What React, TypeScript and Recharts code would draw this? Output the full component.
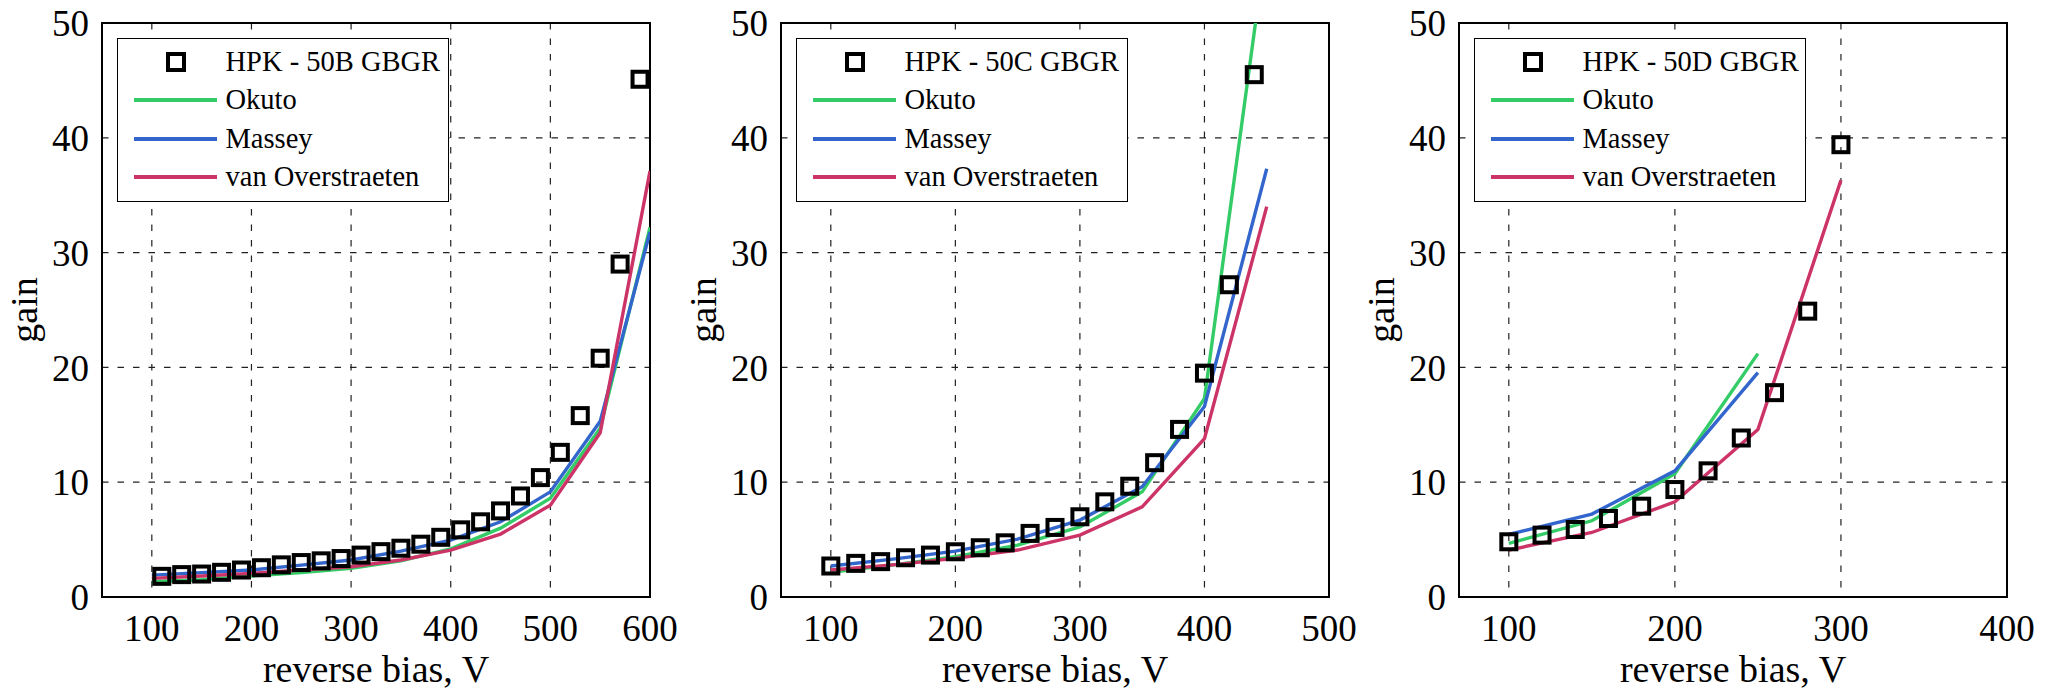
import { ComposedChart, XAxis, YAxis, CartesianGrid, Line, Scatter, Legend, ReferenceArea, Label } from 'recharts';

const serif = '"Liberation Serif", "Times New Roman", serif';
const okutoColor = '#33cc66';
const masseyColor = '#3366cc';
const vanOColor = '#cc3366';

const gainTicks = [0, 10, 20, 30, 40, 50];

// HPK - 50B GBGR
const biasB = [110, 130, 150, 170, 190, 210, 230, 250, 270, 290, 310, 330, 350, 370, 390, 410, 430, 450, 470, 490, 510, 530, 550, 570, 590];
const gainB = [1.8, 1.95, 2.0, 2.15, 2.35, 2.55, 2.8, 3.0, 3.15, 3.35, 3.65, 3.95, 4.25, 4.6, 5.2, 5.85, 6.55, 7.5, 8.8, 10.4, 12.6, 15.8, 20.8, 29.0, 45.1];
const modelBiasB = [100, 150, 200, 250, 300, 350, 400, 450, 500, 550, 600];
const okutoB = [1.33, 1.5, 1.83, 2.12, 2.5, 3.16, 4.2, 6.0, 8.6, 14.7, 32.2];
const masseyB = [1.91, 2.12, 2.35, 2.78, 3.22, 4.0, 4.96, 6.55, 9.16, 15.3, 31.8];
const vanOB = [1.62, 1.83, 2.06, 2.35, 2.64, 3.22, 4.09, 5.48, 8.0, 14.3, 37.1];
const ticksB = [100, 200, 300, 400, 500, 600];

// HPK - 50C GBGR
const biasC = [100, 120, 140, 160, 180, 200, 220, 240, 260, 280, 300, 320, 340, 360, 380, 400, 420, 440];
const gainC = [2.7, 2.93, 3.08, 3.42, 3.65, 3.94, 4.29, 4.72, 5.54, 6.06, 6.99, 8.29, 9.65, 11.7, 14.6, 19.5, 27.2, 45.5];
const modelBiasC = [100, 150, 200, 250, 300, 350, 400, 450];
const okutoC = [2.15, 2.8, 3.51, 4.52, 6.1, 9.16, 17.3, 57.2];
const masseyC = [2.7, 3.3, 4.0, 5.04, 6.7, 9.6, 16.6, 37.3];
const vanOC = [2.35, 2.8, 3.36, 4.09, 5.39, 7.85, 13.8, 34.0];
const ticksC = [100, 200, 300, 400, 500];

// HPK - 50D GBGR
const biasD = [100, 120, 140, 160, 180, 200, 220, 240, 260, 280, 300];
const gainD = [4.81, 5.39, 5.88, 6.84, 7.91, 9.36, 10.99, 13.85, 17.8, 24.9, 39.4];
const modelBiasD = [100, 150, 200, 250];
const okutoD = [4.67, 6.64, 10.75, 21.2];
const masseyD = [5.45, 7.22, 10.99, 19.54];
const vanOBiasD = [100, 150, 200, 250, 300];
const vanOD = [4.09, 5.62, 8.29, 14.58, 36.3];
const ticksD = [100, 200, 300, 400];

const pts = (xs: number[], ys: number[]) => xs.map((x, i) => ({ x, y: ys[i] }));

const SquareDot = (props: any) => {
  const { cx, cy } = props;
  if (cx == null || cy == null) return null;
  return <rect x={cx - 7.5} y={cy - 7.5} width={15} height={15} fill="none" stroke="#000" strokeWidth={4} />;
};

function LegendBox({ name }: { name: string }) {
  const rows = [
    { label: name, kind: 'square', color: '#000' },
    { label: 'Okuto', kind: 'line', color: okutoColor },
    { label: 'Massey', kind: 'line', color: masseyColor },
    { label: 'van Overstraeten', kind: 'line', color: vanOColor },
  ];
  const centers = [24, 62.5, 101, 139.5];
  return (
    <div
      style={{
        position: 'relative',
        width: 332,
        height: 164,
        boxSizing: 'border-box',
        border: '1.5px solid #000',
        background: '#fff',
        fontFamily: serif,
        fontSize: 28.5,
        color: '#000',
      }}
    >
      {rows.map((r, i) => (
        <div key={r.label} style={{ position: 'absolute', left: -1.5, top: centers[i] - 20 - 1.5, width: 332, height: 40 }}>
          {r.kind === 'square' ? (
            <div
              style={{
                position: 'absolute',
                left: 49,
                top: 10,
                width: 20,
                height: 20,
                boxSizing: 'border-box',
                border: '4px solid #000',
              }}
            />
          ) : (
            <div style={{ position: 'absolute', left: 17, top: 18, width: 83, height: 4, background: r.color }} />
          )}
          <div style={{ position: 'absolute', left: 109, top: 0, height: 40, display: 'flex', alignItems: 'center', whiteSpace: 'nowrap' }}>
            {r.label}
          </div>
        </div>
      ))}
    </div>
  );
}

type PanelProps = {
  left: number;
  name: string;
  domain: [number, number];
  ticks: number[];
  squares: { x: number; y: number }[];
  okuto: { x: number; y: number }[];
  massey: { x: number; y: number }[];
  vanO: { x: number; y: number }[];
};

function Panel({ left, name, domain, ticks, squares, okuto, massey, vanO }: PanelProps) {
  const tickStyle = { fill: '#000', fontSize: 37, fontFamily: serif };
  return (
    <div style={{ position: 'absolute', left, top: 0, width: 680, height: 690 }}>
      <ComposedChart width={680} height={690} margin={{ top: 23, right: 30, bottom: 33, left: 42 }}>
        <CartesianGrid stroke="#222" strokeWidth={1.2} strokeDasharray="6.5 9" />
        <XAxis
          type="number"
          dataKey="x"
          domain={domain}
          ticks={ticks}
          interval={0}
          allowDataOverflow
          height={60}
          axisLine={false}
          tickLine={false}
          tickMargin={12}
          tick={tickStyle}
        >
          <Label
            content={(p: any) => (
              <text x={p.viewBox.x + p.viewBox.width / 2} y={p.viewBox.y + 85} textAnchor="middle" fontFamily={serif} fontSize={38} fill="#000">
                reverse bias, V
              </text>
            )}
          />
        </XAxis>
        <YAxis
          type="number"
          dataKey="y"
          domain={[0, 50]}
          ticks={gainTicks}
          interval={0}
          allowDataOverflow
          width={60}
          axisLine={false}
          tickLine={false}
          tickMargin={7}
          tick={tickStyle}
        >
          <Label
            content={(p: any) => {
              const x = p.viewBox.x + p.viewBox.width - 65;
              const y = p.viewBox.y + p.viewBox.height / 2;
              return (
                <text x={x} y={y} transform={`rotate(-90, ${x}, ${y})`} textAnchor="middle" fontFamily={serif} fontSize={38} fill="#000">
                  gain
                </text>
              );
            }}
          />
        </YAxis>
        <ReferenceArea x1={domain[0]} x2={domain[1]} y1={0} y2={50} fill="none" stroke="#000" strokeWidth={2} strokeOpacity={1} />
        <Scatter data={squares} dataKey="y" shape={SquareDot} isAnimationActive={false} />
        <Line data={okuto} dataKey="y" type="linear" stroke={okutoColor} strokeWidth={3.4} dot={false} activeDot={false} isAnimationActive={false} />
        <Line data={massey} dataKey="y" type="linear" stroke={masseyColor} strokeWidth={3.4} dot={false} activeDot={false} isAnimationActive={false} />
        <Line data={vanO} dataKey="y" type="linear" stroke={vanOColor} strokeWidth={3.4} dot={false} activeDot={false} isAnimationActive={false} />
        <Legend
          layout="vertical"
          align="center"
          verticalAlign="middle"
          wrapperStyle={{ left: 117, top: 38, width: 332, height: 164 }}
          content={() => <LegendBox name={name} />}
        />
      </ComposedChart>
    </div>
  );
}

export default function App() {
  return (
    <div style={{ position: 'absolute', left: 0, top: 0, width: 2055, height: 690, background: '#fff' }}>
      <Panel
        left={0}
        name="HPK - 50B GBGR"
        domain={[50, 600]}
        ticks={ticksB}
        squares={pts(biasB, gainB)}
        okuto={pts(modelBiasB, okutoB)}
        massey={pts(modelBiasB, masseyB)}
        vanO={pts(modelBiasB, vanOB)}
      />
      <Panel
        left={679}
        name="HPK - 50C GBGR"
        domain={[60, 500]}
        ticks={ticksC}
        squares={pts(biasC, gainC)}
        okuto={pts(modelBiasC, okutoC)}
        massey={pts(modelBiasC, masseyC)}
        vanO={pts(modelBiasC, vanOC)}
      />
      <Panel
        left={1357}
        name="HPK - 50D GBGR"
        domain={[70, 400]}
        ticks={ticksD}
        squares={pts(biasD, gainD)}
        okuto={pts(modelBiasD, okutoD)}
        massey={pts(modelBiasD, masseyD)}
        vanO={pts(vanOBiasD, vanOD)}
      />
    </div>
  );
}
